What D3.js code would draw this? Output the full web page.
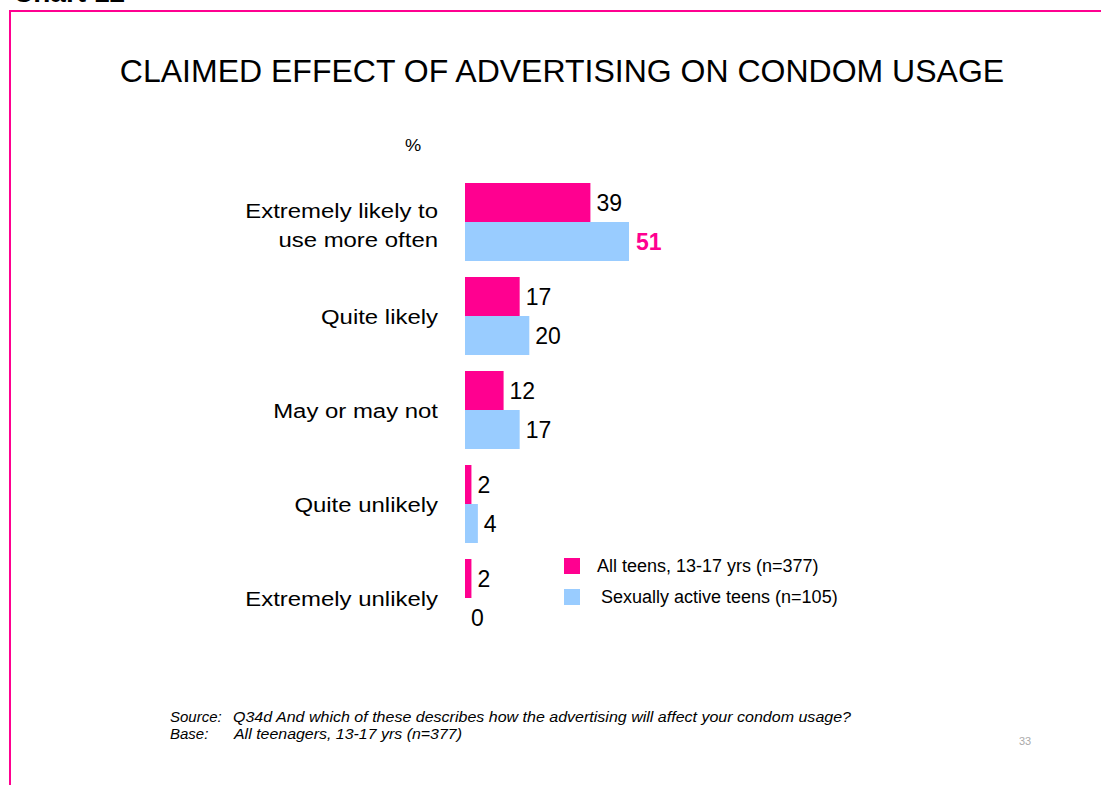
<!DOCTYPE html>
<html>
<head>
<meta charset="utf-8">
<script src="https://cdn.jsdelivr.net/npm/d3@7"></script>
<style>
  html, body { margin: 0; padding: 0; background: #fff; }
  svg { display: block; font-family: "Liberation Sans", Arial, sans-serif; }
</style>
</head>
<body>
<svg id="chart" width="1101" height="785"></svg>
<script>
// Answer categories (top to bottom); multi-line labels split on "\n"
const categories = [
  "Extremely likely to\nuse more often",
  "Quite likely",
  "May or may not",
  "Quite unlikely",
  "Extremely unlikely"
];
const seriesNames = ["All teens, 13-17 yrs (n=377)", "Sexually active teens (n=105)"];
const allTeens = [39, 17, 12, 2, 2];
const activeTeens = [51, 20, 17, 4, 0];

const PINK = "#FF0090";
const BLUE = "#99CCFF";
const WIDE = 1.14; // horizontal stretch of the category label type

const svg = d3.select("#chart");

// Slide frame: pink rule along the top and left edge
svg.append("path")
  .attr("d", "M10,785 V11 H1101")
  .attr("fill", "none")
  .attr("stroke", PINK)
  .attr("stroke-width", 2);

// Slide header, clipped by the top of the page
svg.append("text")
  .attr("x", 13).attr("y", 2)
  .attr("font-size", 28).attr("font-weight", "bold")
  .attr("fill", "#000")
  .text("Chart 12");

svg.append("text")
  .attr("x", 562).attr("y", 82)
  .attr("text-anchor", "middle")
  .attr("font-size", 32)
  .attr("fill", "#000")
  .text("CLAIMED EFFECT OF ADVERTISING ON CONDOM USAGE");

svg.append("g")
  .attr("transform", `translate(413,151) scale(${WIDE},1)`)
  .append("text")
  .attr("text-anchor", "middle")
  .attr("font-size", 16)
  .text("%");

// Scales: five groups on a 94px step, 78px of bars per group
const x = d3.scaleLinear().domain([0, 51]).range([465, 629]);
const y = d3.scaleBand().domain(categories).range([183, 637]).paddingInner(16 / 94).paddingOuter(0);
const sub = d3.scaleBand().domain([0, 1]).range([0, y.bandwidth()]);

const rows = categories.map((c, i) => ({ c, vals: [allTeens[i], activeTeens[i]] }));

const groups = svg.append("g").selectAll("g.row").data(rows).join("g")
  .attr("class", "row")
  .attr("transform", d => `translate(0,${y(d.c)})`);

groups.selectAll("rect").data(d => d.vals.map((v, k) => ({ v, k }))).join("rect")
  .attr("x", x(0))
  .attr("y", d => sub(d.k))
  .attr("width", d => x(d.v) - x(0))
  .attr("height", sub.bandwidth())
  .attr("fill", d => d.k === 0 ? PINK : BLUE);

const isTop = d => d.k === 1 && d.v === d3.max(activeTeens);
groups.selectAll("text.val").data(d => d.vals.map((v, k) => ({ v, k }))).join("text")
  .attr("class", "val")
  .attr("x", d => x(d.v) + (isTop(d) ? 7 : 6))
  .attr("y", d => sub(d.k) + sub.bandwidth() / 2)
  .attr("dy", "0.36em")
  .attr("font-size", 23)
  .attr("font-weight", d => isTop(d) ? "bold" : "normal")
  .attr("fill", d => isTop(d) ? PINK : "#000")
  .text(d => d.v);

// Category labels, right-aligned against the bars
groups.each(function(d) {
  const lines = d.c.split("\n");
  const mid = y.bandwidth() / 2 + (lines.length > 1 ? 3 : 0);
  const lh = 29;
  const t = d3.select(this).append("g")
    .attr("transform", `translate(438,${mid}) scale(${WIDE},1)`)
    .append("text")
    .attr("text-anchor", "end")
    .attr("font-size", 21)
    .attr("fill", "#000");
  lines.forEach((ln, i) => {
    t.append("tspan")
      .attr("x", 0)
      .attr("y", (i - (lines.length - 1) / 2) * lh)
      .attr("dy", "0.36em")
      .text(ln);
  });
});

// Legend
const legendRows = [
  { name: seriesNames[0], color: PINK, y: 558, tx: 597 },
  { name: seriesNames[1], color: BLUE, y: 589, tx: 601 }
];
const legend = svg.append("g");
legend.selectAll("rect").data(legendRows).join("rect")
  .attr("x", 564).attr("y", d => d.y)
  .attr("width", 16).attr("height", 16)
  .attr("fill", d => d.color);
legend.selectAll("text").data(legendRows).join("text")
  .attr("x", d => d.tx).attr("y", d => d.y + 8)
  .attr("dy", "0.36em")
  .attr("font-size", 18)
  .text(d => d.name);

// Footnotes
const foot = svg.append("g")
  .attr("font-style", "italic")
  .attr("font-size", 15)
  .attr("fill", "#000");
const footLines = [
  { x: 170, y: 722, t: "Source:" },
  { x: 233, y: 722, w: 618, t: "Q34d And which of these describes how the advertising will affect your condom usage?" },
  { x: 170, y: 739, t: "Base:" },
  { x: 234, y: 739, w: 228, t: "All teenagers, 13-17 yrs (n=377)" }
];
foot.selectAll("text").data(footLines).join("text")
  .attr("x", d => d.x).attr("y", d => d.y)
  .attr("textLength", d => d.w || null)
  .attr("lengthAdjust", "spacingAndGlyphs")
  .text(d => d.t);

svg.append("text")
  .attr("x", 1019).attr("y", 745)
  .attr("font-size", 11)
  .attr("fill", "#aaa")
  .text("33");
</script>
</body>
</html>
